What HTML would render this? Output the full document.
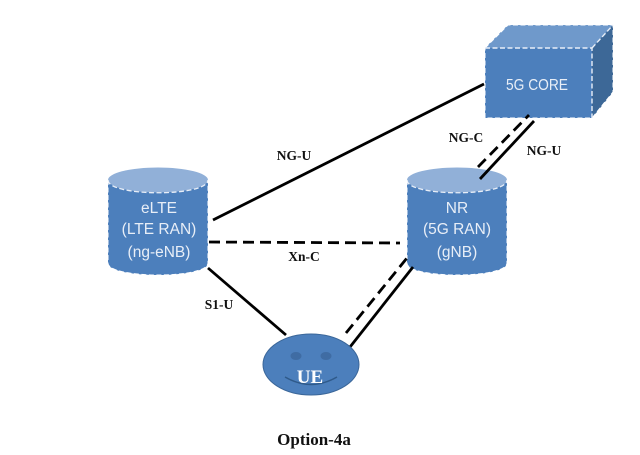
<!DOCTYPE html>
<html>
<head>
<meta charset="utf-8">
<style>
html,body{margin:0;padding:0;background:#fff;}
svg{display:block;filter:blur(0.35px);}
.s{font-family:"Liberation Sans",sans-serif;fill:#e8eef7;font-size:15.5px;text-anchor:middle;}
.b{font-family:"Liberation Serif",serif;font-weight:bold;fill:#111;font-size:13.5px;text-anchor:middle;}
</style>
</head>
<body>
<svg width="640" height="455" viewBox="0 0 640 455" xmlns="http://www.w3.org/2000/svg">
<rect width="640" height="455" fill="#fff"/>

<!-- cube -->
<polygon points="485,48 508,25 613,25 613,92 592,118 485,118" fill="#4a7ebb"/>
<polygon points="485,48 508,25 613,25 592,48" fill="#6f99cb"/>
<polygon points="592,48 613,25 613,92 592,118" fill="#3d6897"/>
<rect x="485" y="48" width="107" height="70" fill="#4c7fbc"/>
<path d="M485,48 L508,25 H613 V92 L592,118 H485 Z" fill="none" stroke="#fff" stroke-width="1" stroke-dasharray="5 2.5"/>
<g fill="none" stroke="#e8eef7" stroke-width="1.4" stroke-dasharray="5 2.5">
<path d="M485,48 H592 V118"/>
<path d="M592,48 L613,25"/>
</g>
<text class="s" x="537" y="90" textLength="62" lengthAdjust="spacingAndGlyphs">5G CORE</text>

<!-- eLTE cylinder -->
<path d="M108,180 V263 C108,279 208,279 208,263 V180 Z" fill="#4c7fbc"/>
<ellipse cx="158" cy="180" rx="50" ry="12.5" fill="#91b0d8"/>
<path d="M108,180 C108,197 208,197 208,180" fill="none" stroke="#e8eef7" stroke-width="1.3" stroke-dasharray="5 2.5"/>
<path d="M108,180 V263 C108,279 208,279 208,263 V180" fill="none" stroke="#fff" stroke-width="1" stroke-dasharray="5 2.5"/>
<text class="s" x="159" y="213">eLTE</text>
<text class="s" x="159" y="234">(LTE RAN)</text>
<text class="s" x="159" y="257">(ng-eNB)</text>

<!-- NR cylinder -->
<path d="M407,180 V263 C407,279 507,279 507,263 V180 Z" fill="#4c7fbc"/>
<ellipse cx="457" cy="180" rx="50" ry="12.5" fill="#91b0d8"/>
<path d="M407,180 C407,197 507,197 507,180" fill="none" stroke="#e8eef7" stroke-width="1.3" stroke-dasharray="5 2.5"/>
<path d="M407,180 V263 C407,279 507,279 507,263 V180" fill="none" stroke="#fff" stroke-width="1" stroke-dasharray="5 2.5"/>
<text class="s" x="457" y="213">NR</text>
<text class="s" x="457" y="234">(5G RAN)</text>
<text class="s" x="457" y="257">(gNB)</text>

<!-- connectors -->
<g stroke="#000" stroke-width="2.8" fill="none">
<line x1="213" y1="220" x2="484" y2="84"/>
<line x1="480" y1="179" x2="534" y2="121"/>
<line x1="208" y1="268" x2="286" y2="335"/>
<line x1="350" y1="347" x2="413" y2="267"/>
<line x1="209" y1="242" x2="400" y2="243" stroke-dasharray="11 6"/>
<line x1="478" y1="167" x2="529" y2="115" stroke-dasharray="11 6"/>
<line x1="346" y1="333" x2="407" y2="258" stroke-dasharray="11 6"/>
</g>

<!-- UE -->
<ellipse cx="311" cy="364.5" rx="48" ry="30.5" fill="#4c7fbc" stroke="#3a6699" stroke-width="1"/>
<ellipse cx="296" cy="356" rx="5.5" ry="4" fill="#3f6ca3"/>
<ellipse cx="326" cy="356" rx="5.5" ry="4" fill="#3f6ca3"/>
<path d="M285,377 Q311,392 337,377" fill="none" stroke="#2f5a8a" stroke-width="1.4"/>
<text x="310" y="383" font-family="Liberation Serif, serif" font-weight="bold" font-size="19" fill="#fff" text-anchor="middle">UE</text>

<!-- labels -->
<text class="b" x="294" y="160">NG-U</text>
<text class="b" x="466" y="142">NG-C</text>
<text class="b" x="544" y="155">NG-U</text>
<text class="b" x="304" y="261">Xn-C</text>
<text class="b" x="219" y="309">S1-U</text>
<text x="314" y="445" font-family="Liberation Serif, serif" font-weight="bold" font-size="17" fill="#111" text-anchor="middle">Option-4a</text>
</svg>
</body>
</html>
